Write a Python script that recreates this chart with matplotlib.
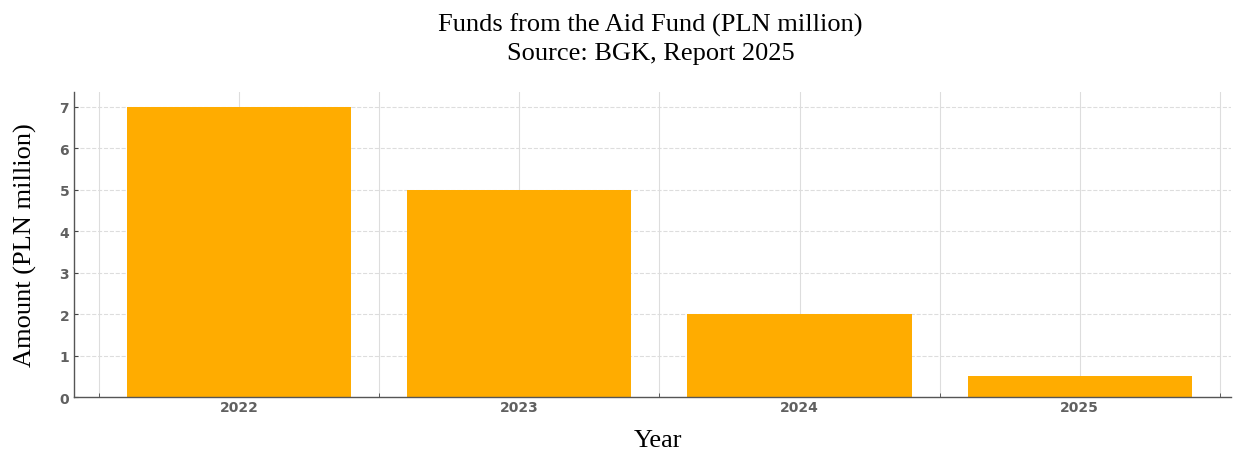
import matplotlib.pyplot as plt
import numpy as np

years = [2022, 2023, 2024, 2025]
amounts = [7.0, 5.0, 2.0, 0.5]

bar_color = "#FFAC00"

fig = plt.figure(figsize=(12.44, 4.56), dpi=100)
ax = fig.add_axes([0.0595, 0.127, 0.93, 0.669])

ax.bar(years, amounts, width=0.8, color=bar_color, zorder=2)

ax.set_xlim(2021.41, 2025.54)
ax.set_ylim(0, 7.36)

# minor ticks at half years, labels only on the whole years
ax.set_xticks(years)
ax.set_xticks(np.arange(2021.5, 2026, 1.0), minor=True)
ax.set_yticks(range(0, 8))

ax.grid(axis="x", which="both", color="#dddddd", linewidth=0.8, zorder=0)
ax.grid(axis="y", color="#dddddd", linestyle="--", linewidth=0.8, zorder=0)

for side in ["top", "right"]:
    ax.spines[side].set_visible(False)
for side in ["left", "bottom"]:
    ax.spines[side].set_color("#555555")
    ax.spines[side].set_linewidth(1.0)

ax.tick_params(axis="both", which="both", direction="in", length=3, color="#444444",
               labelcolor="#606060", labelsize=10)
ax.tick_params(axis="x", pad=2)
for lbl in ax.get_xticklabels() + ax.get_yticklabels():
    lbl.set_fontweight("bold")

serif = ["Liberation Serif", "DejaVu Serif"]
fig.suptitle("Funds from the Aid Fund (PLN million)\nSource: BGK, Report 2025",
             family=serif, fontsize=19, x=0.523, y=0.97, linespacing=1.35)
ax.set_xlabel("Year", family=serif, fontsize=19)
ax.set_ylabel("Amount (PLN million)", family=serif, fontsize=19, labelpad=16)
ax.xaxis.set_label_coords(0.505, -0.105)

fig.savefig("out.png", dpi=100)
